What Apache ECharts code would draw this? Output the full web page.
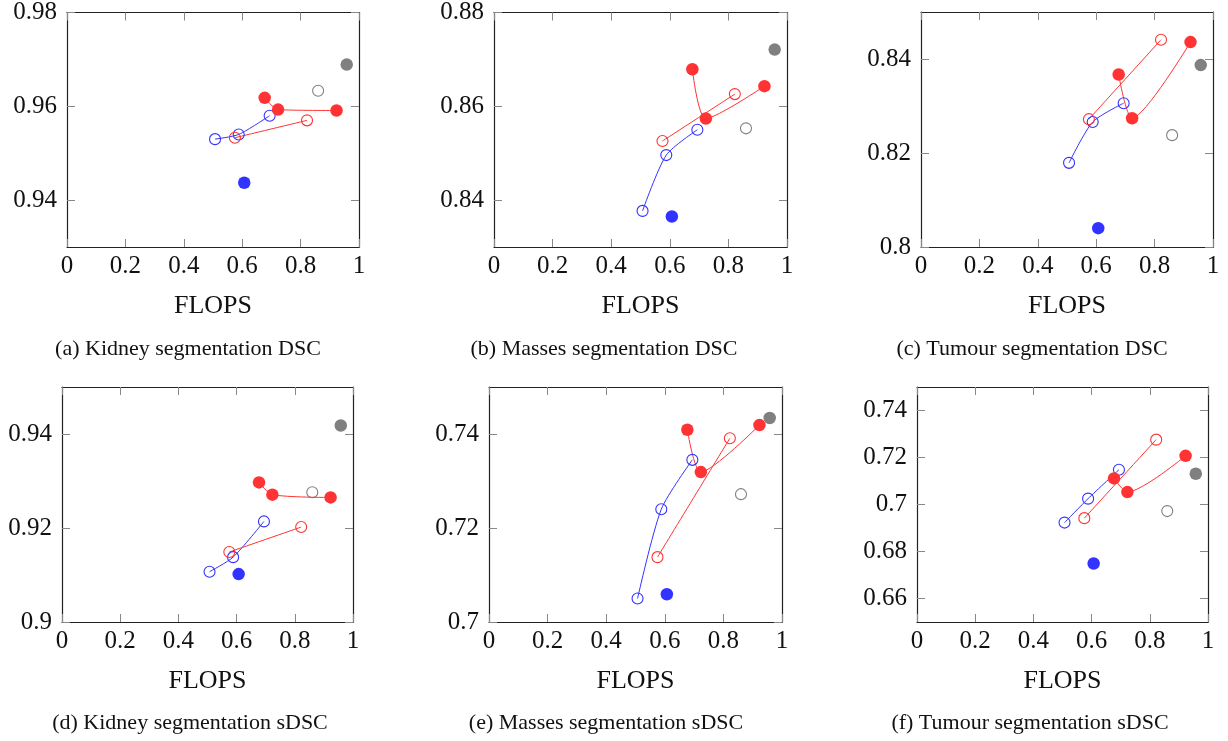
<!DOCTYPE html>
<html>
<head>
<meta charset="utf-8">
<title>FLOPS vs segmentation score</title>
<script src="https://cdn.jsdelivr.net/npm/echarts@6/dist/echarts.min.js"></script>
<style>
  html, body { margin: 0; padding: 0; background: #fff; }
  #chart { width: 1228px; height: 741px; }
</style>
</head>
<body>
<div id="chart"></div>
<script>
// x positions (FLOPS, normalised) shared by every panel
const flopsBlueOpen = [0.507, 0.588, 0.694]
const flopsRedOpen = [0.575, 0.822]
const flopsRedFilled = [0.677, 0.723, 0.923]
const flopsGrayOpen = 0.860
const flopsGrayFilled = 0.958
const flopsBlueFilled = 0.607

// one row per panel: (a) .. (f)
const blueOpenVals = [
  [0.9530, 0.9540, 0.9580],
  [0.8377, 0.8496, 0.8550],
  [0.8179, 0.8266, 0.8306],
  [0.9107, 0.9138, 0.9214],
  [0.7050, 0.7240, 0.7345],
  [0.6923, 0.7025, 0.7148]
]
const redOpenVals = [
  [0.9533, 0.9570],
  [0.8526, 0.8626],
  [0.8272, 0.8441],
  [0.9149, 0.9202],
  [0.7138, 0.7391],
  [0.6942, 0.7276]
]
const redFilledVals = [
  [0.9618, 0.9593, 0.9591],
  [0.8679, 0.8574, 0.8643],
  [0.8367, 0.8274, 0.8436],
  [0.9297, 0.9271, 0.9265],
  [0.7409, 0.7319, 0.7419],
  [0.7111, 0.7053, 0.7207]
]
const grayOpenVals = [0.9633, 0.8553, 0.8238, 0.9276, 0.7272, 0.6972]
const grayFilledVals = [0.9689, 0.8721, 0.8387, 0.9418, 0.7434, 0.7131]
const blueFilledVals = [0.9437, 0.8365, 0.8040, 0.9102, 0.7059, 0.6749]

// axes
const yMins = [0.93, 0.83, 0.80, 0.90, 0.70, 0.65]
const yMaxs = [0.98, 0.88, 0.85, 0.95, 0.75, 0.75]
const yTicks = [
  [0.94, 0.96, 0.98],
  [0.84, 0.86, 0.88],
  [0.80, 0.82, 0.84],
  [0.90, 0.92, 0.94],
  [0.70, 0.72, 0.74],
  [0.66, 0.68, 0.70, 0.72, 0.74]
]
const captions = [
  '(a) Kidney segmentation DSC',
  '(b) Masses segmentation DSC',
  '(c) Tumour segmentation DSC',
  '(d) Kidney segmentation sDSC',
  '(e) Masses segmentation sDSC',
  '(f) Tumour segmentation sDSC'
]

const RED = '#ff3333'
const BLUE = '#3333ff'
const GRAY = '#808080'
const FONT = '"Liberation Serif", "DejaVu Serif", serif'

// plot boxes in pixels: left, top, width, height
const boxes = [
  [67, 12, 292, 235],
  [494, 12, 293, 235],
  [921, 12, 292, 235],
  [62, 387, 291, 235],
  [489, 387, 293, 235],
  [917, 387, 291, 235]
]
const captionPos = [[188, 349], [604, 349], [1032, 349], [190, 723], [606, 723], [1030, 723]]

const fmt = v => String(+(+v).toFixed(2))
const zip = (xs, ys) => xs.map((x, i) => [x, ys[i]])

const chart = echarts.init(document.getElementById('chart'))

const grid = boxes.map(b => ({ left: b[0], top: b[1], width: b[2], height: b[3] }))

const lineAx = { show: true, onZero: false, lineStyle: { color: '#222', width: 1.2 } }
const tickAx = { show: true, inside: true, length: 8, lineStyle: { color: '#888', width: 1 } }

const xAxis = []
const yAxis = []
boxes.forEach((b, i) => {
  xAxis.push({
    type: 'value', gridIndex: i, min: 0, max: 1, interval: 0.2, position: 'bottom',
    name: 'FLOPS', nameLocation: 'middle', nameGap: 46,
    nameTextStyle: { fontFamily: FONT, fontSize: 26, color: '#111' },
    axisLine: lineAx, axisTick: tickAx, splitLine: { show: false },
    axisLabel: { margin: 7, fontFamily: FONT, fontSize: 25, color: '#111', formatter: fmt, showMinLabel: true, showMaxLabel: true }
  })
  yAxis.push({
    type: 'value', gridIndex: i, min: yMins[i], max: yMaxs[i], position: 'left',
    axisLine: lineAx, splitLine: { show: false },
    axisTick: Object.assign({}, tickAx, { customValues: yTicks[i] }),
    axisLabel: { margin: 10, fontFamily: FONT, fontSize: 25, color: '#111', formatter: fmt, customValues: yTicks[i] }
  })
})
// mirrored axes so the box has ticks on all four sides
boxes.forEach((b, i) => {
  xAxis.push({
    type: 'value', gridIndex: i, min: 0, max: 1, interval: 0.2, position: 'top',
    axisLine: lineAx, axisTick: tickAx, axisLabel: { show: false }, splitLine: { show: false }
  })
  yAxis.push({
    type: 'value', gridIndex: i, min: yMins[i], max: yMaxs[i], position: 'right',
    axisLine: lineAx, splitLine: { show: false },
    axisTick: Object.assign({}, tickAx, { customValues: yTicks[i] }),
    axisLabel: { show: false }
  })
})

const openMark = color => ({ color: 'rgba(0,0,0,0)', borderColor: color, borderWidth: 1.1, opacity: 1 })
const fillMark = color => ({ color: color, opacity: 1 })

const series = []
boxes.forEach((b, i) => {
  const ax = { xAxisIndex: i, yAxisIndex: i }
  series.push(Object.assign({
    type: 'line', data: zip(flopsBlueOpen, blueOpenVals[i]), smooth: 0.25,
    symbol: 'circle', symbolSize: 11, itemStyle: openMark(BLUE),
    lineStyle: { color: BLUE, width: 1 }
  }, ax))
  series.push(Object.assign({
    type: 'line', data: zip(flopsRedOpen, redOpenVals[i]), smooth: 0.25,
    symbol: 'circle', symbolSize: 11, itemStyle: openMark(RED),
    lineStyle: { color: RED, width: 1 }
  }, ax))
  series.push(Object.assign({
    type: 'line', data: zip(flopsRedFilled, redFilledVals[i]), smooth: 0.25,
    symbol: 'circle', symbolSize: 12.5, itemStyle: fillMark(RED),
    lineStyle: { color: RED, width: 1 }
  }, ax))
  series.push(Object.assign({
    type: 'scatter', data: [[flopsGrayOpen, grayOpenVals[i]]],
    symbol: 'circle', symbolSize: 11, itemStyle: openMark(GRAY)
  }, ax))
  series.push(Object.assign({
    type: 'scatter', data: [[flopsGrayFilled, grayFilledVals[i]]],
    symbol: 'circle', symbolSize: 12.5, itemStyle: fillMark(GRAY)
  }, ax))
  series.push(Object.assign({
    type: 'scatter', data: [[flopsBlueFilled, blueFilledVals[i]]],
    symbol: 'circle', symbolSize: 12.5, itemStyle: fillMark(BLUE)
  }, ax))
})

const option = {
  animation: false,
  backgroundColor: '#fff',
  grid,
  xAxis,
  yAxis,
  series,
  graphic: captions.map((t, i) => ({
    type: 'text',
    x: captionPos[i][0],
    y: captionPos[i][1],
    style: { text: t, fontFamily: FONT, fontSize: 22, fill: '#111', textAlign: 'center', textVerticalAlign: 'middle' }
  }))
}

chart.setOption(option)

window.addEventListener('resize', () => {
  chart.resize()
})
</script>
</body>
</html>
